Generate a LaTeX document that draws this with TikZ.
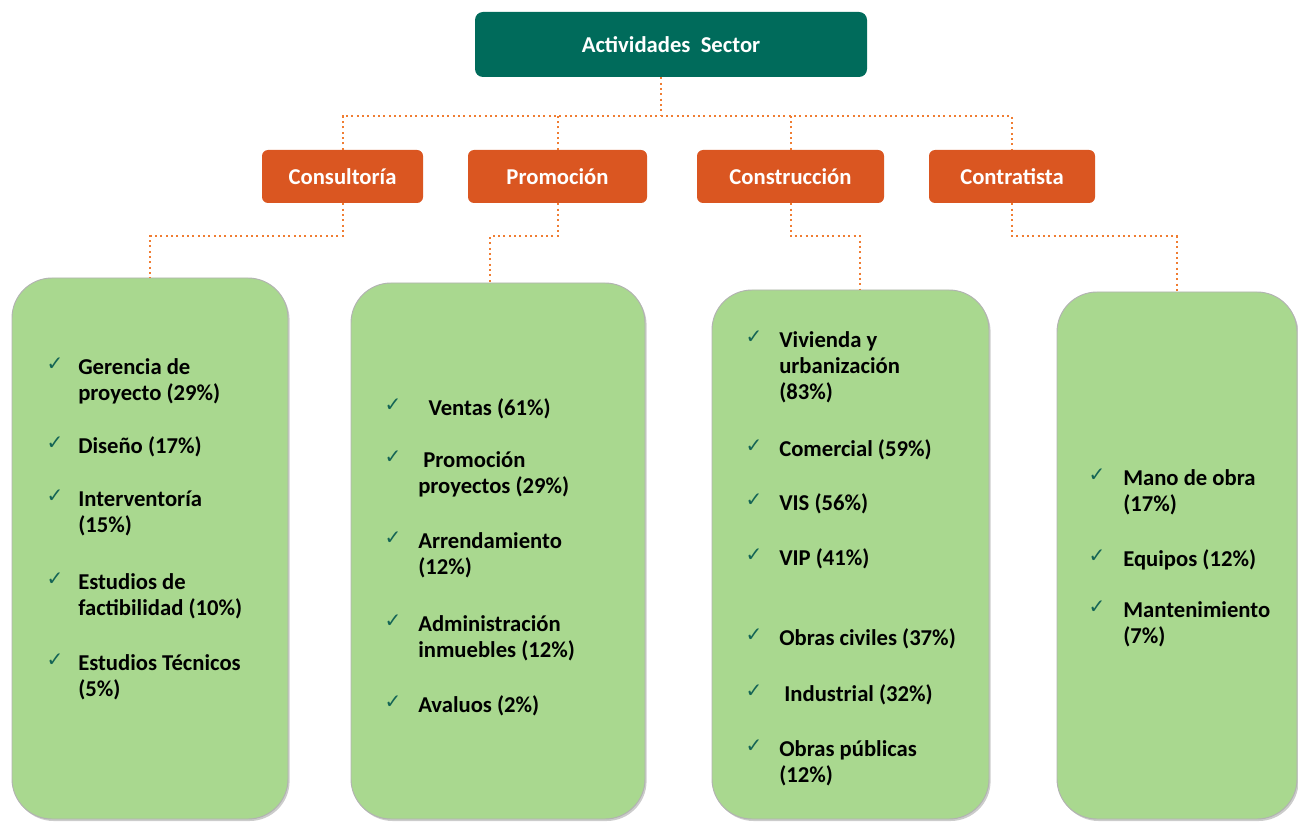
\documentclass[tikz,border=0pt]{standalone}
\usepackage{fontspec}
\setmainfont{Carlito}
\newfontfamily\symfont{DejaVu Sans}
\usepackage{xcolor}
\usepackage{tikz}
\usetikzlibrary{
positioning,
shadows,
calc
}
\definecolor{sectorteal}{RGB}{0,107,91}
\definecolor{areaorange}{RGB}{218,86,33}
\definecolor{linkorange}{RGB}{240,125,50}
\definecolor{listgreen}{RGB}{169,216,143}
\definecolor{checkteal}{RGB}{20,100,85}
\newcommand{\itemlines}[1]{\begin{tabular}[t]{@{}l@{}}#1\end{tabular}}

\begin{document}
\begin{tikzpicture}[
  x=0.75pt, y=-0.75pt,
  every node/.style={font=\fontsize{17}{19.5}\selectfont\bfseries},
  headbox/.style={fill=sectorteal, text=white, rounded corners=6pt, minimum width=294pt, minimum height=48.75pt},
  areabox/.style={fill=areaorange, text=white, rounded corners=4.5pt, minimum height=39.75pt},
  listbox/.style={fill=listgreen, draw=black!30, line width=0.7pt, rounded corners=30pt,
    drop shadow={shadow xshift=1.2pt, shadow yshift=-1.5pt, opacity=0.4}},
  link/.style={draw=linkorange, line width=1.5pt, dash pattern=on 1.5pt off 2.5pt},
  tick/.style={font=\symfont\fontsize{15}{15}\selectfont, text=checkteal, inner sep=0pt, anchor=base},
  entry/.style={inner sep=0pt, anchor=base west}
]
\useasboundingbox (0,0) rectangle (1298,823);

% Sector
\node[headbox] (sector) at (671,44.5) {Actividades\ \ Sector};

% Areas
\node[areabox, minimum width=120.75pt] (cons) at (342.5,176.5) {Consultoría};
\node[areabox, minimum width=134.25pt] (prom) at (557.5,176.5) {Promoción};
\node[areabox, minimum width=140.25pt] (constr) at (790.5,176.5) {Construcción};
\node[areabox, minimum width=124.5pt] (contr) at (1012,176.5) {Contratista};

% Lists
\node[listbox, minimum width=207pt, minimum height=405.75pt] (gcons) at (150,548.5) {};
\node[listbox, minimum width=220.5pt, minimum height=402pt] (gprom) at (498,551) {};
\node[listbox, minimum width=207.75pt, minimum height=396.75pt] (gconstr) at (850.5,554.5) {};
\node[listbox, minimum width=180pt, minimum height=395.25pt] (gcontr) at (1177,555.5) {};

% Links
\coordinate (hub) at (661,116);
\draw[link] (sector.south -| hub) -- (hub);
\draw[link] (cons.north) -- (cons.north |- hub) -- (contr.north |- hub) -- (contr.north);
\draw[link] (prom.north) -- (prom.north |- hub);
\draw[link] (constr.north) -- (constr.north |- hub);
\draw[link] (cons.south) -- ++(0,33) -| (gcons.north);
\draw[link] (prom.south) -- ++(0,33) -| ([xshift=-6pt]gprom.north);
\draw[link] (constr.south) -- ++(0,33) -| ([xshift=7pt]gconstr.north);
\draw[link] (contr.south) -- ++(0,33) -| (gcontr.north);

% Consultoria items
\foreach \y/\t [count=\i] in {374/{Gerencia de\\proyecto (29\%)}, 453/{Diseño (17\%)},
    506/{Interventoría\\(15\%)}, 589/{Estudios de\\factibilidad (10\%)}, 670/{Estudios Técnicos\\(5\%)}}{
  \node[tick] (tcons\i) at (55,\y-4) {✓};
  \node[entry] (icons\i) at (78,\y) {\itemlines{\t}};
}

% Promocion items
\foreach \y/\t [count=\i] in {415/{\ \ Ventas (61\%)}, 467/{\ Promoción\\proyectos (29\%)},
    548/{Arrendamiento\\(12\%)}, 631/{Administración\\inmuebles (12\%)}, 712/{Avaluos (2\%)}}{
  \node[tick] (tprom\i) at (393,\y-4) {✓};
  \node[entry] (iprom\i) at (418,\y) {\itemlines{\t}};
}

% Construccion items
\foreach \y/\t [count=\i] in {348/{Vivienda y\\urbanización\\(83\%)}, 456/{Comercial (59\%)},
    510/{VIS (56\%)}, 565/{VIP (41\%)}, 645/{Obras civiles (37\%)},
    701/{\ Industrial (32\%)}, 756/{Obras públicas\\(12\%)}}{
  \node[tick] (tconstr\i) at (754,\y-4) {✓};
  \node[entry] (iconstr\i) at (779,\y) {\itemlines{\t}};
}

% Contratista items
\foreach \y/\t [count=\i] in {485/{Mano de obra\\(17\%)}, 566/{Equipos (12\%)},
    617/{Mantenimiento\\(7\%)}}{
  \node[tick] (tcontr\i) at (1097,\y-4) {✓};
  \node[entry] (icontr\i) at (1123,\y) {\itemlines{\t}};
}

\end{tikzpicture}
\end{document}
